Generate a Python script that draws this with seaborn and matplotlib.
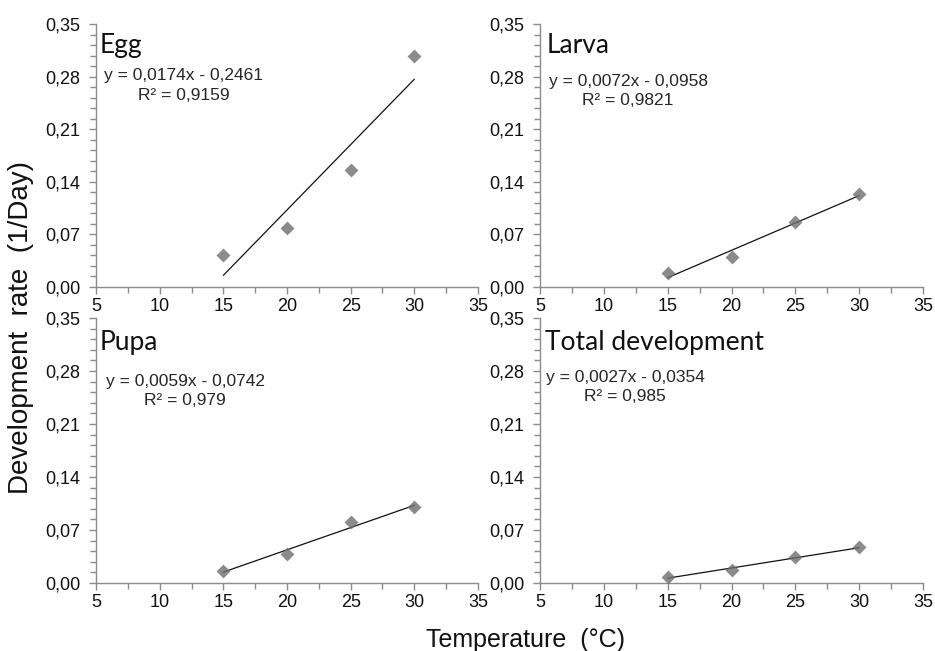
import numpy as np
import pandas as pd
import seaborn as sns
import matplotlib.pyplot as plt
from matplotlib.ticker import MultipleLocator, FuncFormatter

# --------------------------------------------------
# Data
# --------------------------------------------------

temperature = [15, 20, 25, 30]

egg_rate = [0.043, 0.078, 0.156, 0.307]
larva_rate = [0.018, 0.040, 0.086, 0.124]
pupa_rate = [0.016, 0.038, 0.080, 0.100]
total_rate = [0.008, 0.017, 0.034, 0.047]

stages = ["Egg", "Larva", "Pupa", "Total development"]

equations = [
    "y = 0,0174x - 0,2461",
    "y = 0,0072x - 0,0958",
    "y = 0,0059x - 0,0742",
    "y = 0,0027x - 0,0354",
]

r_squared = [
    "R² = 0,9159",
    "R² = 0,9821",
    "R² = 0,979",
    "R² = 0,985",
]

x_ticks = [5, 10, 15, 20, 25, 30, 35]
y_ticks = [0.00, 0.07, 0.14, 0.21, 0.28, 0.35]

df = pd.DataFrame({
    "temperature": temperature * 4,
    "rate": egg_rate + larva_rate + pupa_rate + total_rate,
    "stage": [s for s in stages for _ in temperature],
})

# --------------------------------------------------
# Style
# --------------------------------------------------

sns.set_style("ticks")
plt.rcParams["font.family"] = ["Liberation Sans", "DejaVu Sans"]

AXIS_GREY = "#8c8c8c"
TEXT = "#111111"

fig = plt.figure(figsize=(9.35, 6.51), dpi=100)

# left, bottom, width, height in figure fraction
positions = [
    [96 / 935, (651 - 287) / 651, 382 / 935, 263 / 651],
    [540 / 935, (651 - 287) / 651, 383 / 935, 263 / 651],
    [96 / 935, (651 - 583) / 651, 382 / 935, 265 / 651],
    [540 / 935, (651 - 583) / 651, 383 / 935, 265 / 651],
]

# title (x, y), equation (x, y), R² (x, y) in axes fraction
text_pos = [
    [(0.01, 0.92), (0.23, 0.806), (0.23, 0.73)],
    [(0.016, 0.92), (0.23, 0.783), (0.23, 0.711)],
    [(0.01, 0.909), (0.233, 0.762), (0.233, 0.69)],
    [(0.013, 0.909), (0.222, 0.777), (0.222, 0.702)],
]

comma = FuncFormatter(lambda v, p: f"{v:.2f}".replace(".", ","))

for i, stage in enumerate(stages):

    ax = fig.add_axes(positions[i])

    sns.regplot(
        data=df[df["stage"] == stage],
        x="temperature",
        y="rate",
        ci=None,
        truncate=True,
        marker="D",
        scatter_kws={"s": 50, "color": "#6e6e6e", "linewidths": 0, "zorder": 3},
        line_kws={"color": "#111111", "lw": 0.9, "zorder": 2},
        ax=ax,
    )

    ax.set_xlim(5, 35)
    ax.set_ylim(0, 0.35)
    ax.set_xticks(x_ticks)
    ax.set_yticks(y_ticks)
    ax.xaxis.set_minor_locator(MultipleLocator(2.5))
    ax.yaxis.set_minor_locator(MultipleLocator(0.014))
    ax.yaxis.set_major_formatter(comma)

    ax.set_xlabel("")
    ax.set_ylabel("")

    for side in ["top", "right"]:
        ax.spines[side].set_visible(False)
    for side in ["left", "bottom"]:
        ax.spines[side].set_color(AXIS_GREY)
        ax.spines[side].set_linewidth(1.0)

    ax.tick_params(
        which="both",
        direction="out",
        color=AXIS_GREY,
        width=1.0,
        labelcolor=TEXT,
        labelsize=13,
    )
    ax.tick_params(which="major", length=5, pad=3)
    ax.tick_params(which="minor", length=4)
    ax.tick_params(axis="y", which="major", pad=6)

    (tx, ty), (ex, ey), (rx, ry) = text_pos[i]

    ax.text(
        tx, ty, stage,
        transform=ax.transAxes,
        ha="left", va="center",
        fontsize=19, color=TEXT,
        family=["Lato", "DejaVu Sans"],
    )
    ax.text(
        ex, ey, equations[i],
        transform=ax.transAxes,
        ha="center", va="center",
        fontsize=12.5, color="#262626",
    )
    ax.text(
        rx, ry, r_squared[i],
        transform=ax.transAxes,
        ha="center", va="center",
        fontsize=12.5, color="#262626",
    )

fig.text(
    21 / 935, 1 - 328 / 651,
    "Development  rate  (1/Day)",
    rotation=90, ha="center", va="center",
    fontsize=20, color=TEXT,
)
fig.text(
    526 / 935, 1 - 640 / 651,
    "Temperature  (°C)",
    ha="center", va="center",
    fontsize=18, color=TEXT,
)

fig.savefig("out.png", dpi=100, facecolor="white")
